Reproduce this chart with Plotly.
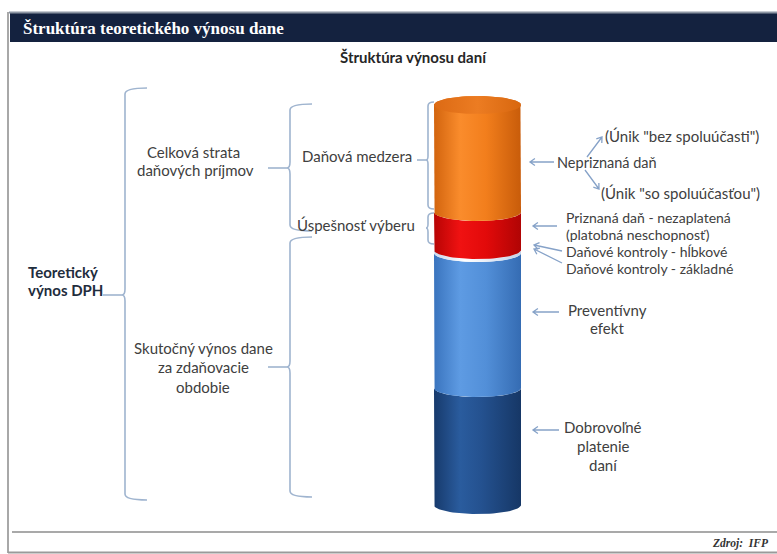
import numpy as np
import plotly.graph_objects as go

# ---------------- data ----------------
segment_labels = ["Dobrovoľné platenie daní", "Preventívny efekt", "Daňové kontroly",
                  "Priznaná daň - nezaplatená", "Nepriznaná daň"]
segment_values = [117, 135, 3, 38, 107]
segment_scales = [
    [[0, "#173a6c"], [0.3, "#2a5c9e"], [0.55, "#24518f"], [1, "#163766"]],
    [[0, "#3a74be"], [0.3, "#5e9be3"], [0.6, "#528fd8"], [1, "#356cb3"]],
    [[0, "#c9d8ec"], [0.35, "#ffffff"], [1, "#c2d2e8"]],
    [[0, "#b80404"], [0.3, "#f01212"], [0.6, "#e20a0a"], [1, "#b00404"]],
    [[0, "#d2640e"], [0.3, "#fa8c2c"], [0.6, "#f27e1c"], [1, "#c85c0a"]],
]
top_scale = [[0, "#dc6a14"], [0.5, "#ec7c22"], [1, "#d8670f"]]

W, H = 777, 554
BASE_PX = 505          # pixel row of the cylinder base
XC, RX, RY = 477.5, 43.5, 9


def Y(py):
    return BASE_PX - py


def P(px, py):
    return f"{px:.2f},{Y(py):.2f}"


fig = go.Figure()

# ---------------- cylinder (stacked segments) ----------------
cum = np.concatenate([[0], np.cumsum(segment_values)])
th_low = np.linspace(np.pi, 2 * np.pi, 40)      # lower half, left -> right
th_up = np.linspace(0, np.pi, 40)               # upper half, right -> left
n = len(segment_values)
for i in range(n):
    b, t = cum[i], cum[i + 1]
    xs = [XC - RX]
    ys = [t]
    xs += list(XC + RX * np.cos(th_low))
    ys += list(b + RY * np.sin(th_low))
    if i < n - 1:
        xs += list(XC + RX * np.cos(th_low[::-1]))
        ys += list(t + RY * np.sin(th_low[::-1]))
    else:
        xs += list(XC + RX * np.cos(th_up))
        ys += list(t + RY * np.sin(th_up))
    fig.add_trace(go.Scatter(
        x=xs, y=ys, mode="lines", fill="toself", line=dict(width=0),
        fillgradient=dict(type="horizontal", colorscale=segment_scales[i]),
        name=segment_labels[i], hoverinfo="name", showlegend=False))

# top face
th = np.linspace(0, 2 * np.pi, 80)
fig.add_trace(go.Scatter(
    x=list(XC + RX * np.cos(th)), y=list(cum[-1] + RY * np.sin(th)),
    mode="lines", fill="toself", line=dict(width=0),
    fillgradient=dict(type="horizontal", colorscale=top_scale),
    hoverinfo="skip", showlegend=False))

shapes = []
annotations = []

# ---------------- frame ----------------
shapes.append(dict(type="rect", xref="x", yref="y", x0=10, x1=777, y0=Y(13), y1=Y(42),
                   fillcolor="#14223f", line=dict(width=0), layer="below"))
shapes.append(dict(type="line", xref="x", yref="y", x0=9, x1=777, y0=Y(12.5), y1=Y(12.5),
                   line=dict(color="#8d96a3", width=2)))
shapes.append(dict(type="line", xref="x", yref="y", x0=8, x1=8, y0=Y(12), y1=Y(553),
                   line=dict(color="#a8a8a8", width=2)))
shapes.append(dict(type="line", xref="x", yref="y", x0=12, x1=777, y0=Y(532), y1=Y(532),
                   line=dict(color="#8c8c8c", width=1.5)))
shapes.append(dict(type="line", xref="x", yref="y", x0=8, x1=777, y0=Y(552.5), y1=Y(552.5),
                   line=dict(color="#9a9a9a", width=2)))

BR = "#9fb4cf"


def brace(x, y0, y1, yc, h, r=6, c=3):
    path = (f"M {P(x + h, y0)} Q {P(x, y0)} {P(x, y0 + r)} L {P(x, yc - r)} "
            f"Q {P(x, yc)} {P(x - c, yc)} Q {P(x, yc)} {P(x, yc + r)} "
            f"L {P(x, y1 - r)} Q {P(x, y1)} {P(x + h, y1)}")
    shapes.append(dict(type="path", xref="x", yref="y", path=path,
                       line=dict(color=BR, width=1.6)))


def dash(x0, x1, y):
    shapes.append(dict(type="line", xref="x", yref="y", x0=x0, x1=x1, y0=Y(y), y1=Y(y),
                       line=dict(color=BR, width=1.6)))


brace(125, 88, 500, 295, 22)
dash(103, 122, 295)
brace(290, 104, 231, 168, 22)
dash(268, 287, 168)
brace(290, 237, 497, 367, 22)
dash(268, 287, 367)
brace(428, 102, 209, 160, 6, r=4, c=2)
dash(417, 426, 160)
brace(428, 213, 244, 228, 6, r=4, c=2)

AR = "#86a2c8"


def arrow(tx, ty, hx, hy, L=6, ang=35):
    d = np.array([tx - hx, ty - hy], float)
    d /= np.linalg.norm(d)
    a = np.radians(ang)
    w = []
    for s in (1, -1):
        c_, s_ = np.cos(s * a), np.sin(s * a)
        w.append((hx + L * (c_ * d[0] - s_ * d[1]), hy + L * (s_ * d[0] + c_ * d[1])))
    path = (f"M {P(tx, ty)} L {P(hx, hy)} M {P(*w[0])} L {P(hx, hy)} L {P(*w[1])}")
    shapes.append(dict(type="path", xref="x", yref="y", path=path,
                       line=dict(color=AR, width=1.3)))


arrow(554, 162, 530, 162)
arrow(587, 157, 602, 137)
arrow(585, 170, 599, 189)
arrow(557, 226, 533, 226)
arrow(562, 251, 534, 245)
arrow(562, 263, 534, 249)
arrow(559, 312, 533, 312)
arrow(559, 430, 533, 430)

# ---------------- texts ----------------
TXT = "#404040"
FONT = "Lato"
FS = 15


def text(s, x, y, anchor="center", size=FS, color=TXT, family=FONT):
    annotations.append(dict(text=s, x=x, y=Y(y), xref="x", yref="y", showarrow=False,
                            xanchor=anchor, yanchor="middle",
                            font=dict(family=family, size=size, color=color)))


text("<b>Štruktúra teoretického výnosu dane</b>", 21, 28, "left", 17, "white",
     "Liberation Serif")
text("<b>Štruktúra výnosu daní</b>", 413, 57, "center", 15, "#262626")
text("<b><i>Zdroj:  IFP</i></b>", 771, 543, "right", 11.5, "#333333", "Liberation Serif")

text("<b>Teoretický</b>", 26, 272, "left", 15, "#1f2d3d")
text("<b>výnos DPH</b>", 26, 290, "left", 15, "#1f2d3d")

text("Celková strata", 193, 152)
text("daňových príjmov", 195, 170)
text("Skutočný výnos dane", 203, 348)
text("za zdaňovacie", 203, 367)
text("obdobie", 203, 387)
text("Daňová medzera", 357, 156)
text("Úspešnosť výberu", 356, 225)

text("Nepriznaná daň", 555, 162, "left", 14.5)
text("(Únik \"bez spoluúčasti\")", 603, 136, "left")
text("(Únik \"so spoluúčasťou\")", 599, 193, "left")
SM = 14
text("Priznaná daň - nezaplatená", 564, 217, "left", SM)
text("(platobná neschopnosť)", 564, 234, "left", SM)
text("Daňové kontroly - hĺbkové", 564, 251, "left", SM)
text("Daňové kontroly - základné", 564, 268, "left", SM)
text("Preventívny", 607, 310)
text("efekt", 607, 328)
text("Dobrovoľné", 603, 427)
text("platenie", 603, 446)
text("daní", 603, 465)

fig.update_layout(
    width=W, height=H, margin=dict(l=0, r=0, t=0, b=0),
    paper_bgcolor="white", plot_bgcolor="white",
    xaxis=dict(range=[0, W], visible=False, fixedrange=True),
    yaxis=dict(range=[Y(H), Y(0)], visible=False, fixedrange=True),
    shapes=shapes, annotations=annotations, showlegend=False,
)

fig.write_html("out.html")
